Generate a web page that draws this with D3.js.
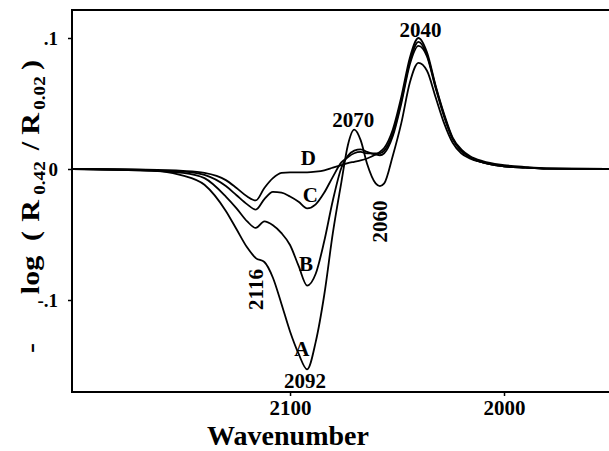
<!DOCTYPE html>
<html><head><meta charset="utf-8">
<script src="https://cdn.jsdelivr.net/npm/d3@7"></script>
<style>
html,body{margin:0;padding:0;background:#fff;}
svg{display:block;}
text{font-family:"Liberation Serif","Times New Roman",serif;font-weight:bold;fill:#000;}
</style></head>
<body><svg id="chart" width="609" height="451"></svg>
<script>
const wavenumbers = [2202,2170,2150,2140,2130,2125,2120,2116,2112,2108,2104,2100,2096,2092,2088,2084,2080,2076,2073,2070,2067,2064,2060,2058,2056,2052,2048,2044,2040,2036,2032,2028,2024,2020,2016,2010,2000,1990,1980,1951];
const seriesA = [0,-0.0005,-0.005,-0.012,-0.032,-0.046,-0.060,-0.068,-0.071,-0.083,-0.103,-0.124,-0.141,-0.153,-0.132,-0.096,-0.049,-0.010,0.018,0.030,0.022,0.004,-0.011,-0.013,-0.011,0.010,0.035,0.066,0.081,0.075,0.055,0.035,0.020,0.012,0.008,0.005,0.002,0.001,0.0003,0];
const seriesB = [0,-0.001,-0.003,-0.007,-0.021,-0.030,-0.040,-0.045,-0.040,-0.043,-0.049,-0.058,-0.074,-0.089,-0.080,-0.055,-0.024,0.001,0.010,0.014,0.015,0.013,0.011,0.0105,0.012,0.025,0.050,0.080,0.094,0.086,0.062,0.040,0.023,0.014,0.009,0.005,0.002,0.001,0.0003,0];
const seriesC = [0,-0.001,-0.002,-0.0045,-0.013,-0.020,-0.027,-0.031,-0.023,-0.0175,-0.018,-0.021,-0.025,-0.030,-0.027,-0.018,-0.006,0.005,0.009,0.012,0.013,0.012,0.012,0.012,0.014,0.027,0.052,0.082,0.097,0.087,0.063,0.041,0.023,0.014,0.009,0.005,0.002,0.001,0.0003,0];
const seriesD = [0,-0.0005,-0.0015,-0.003,-0.0085,-0.0145,-0.021,-0.024,-0.0145,-0.007,-0.003,-0.0025,-0.0025,-0.0025,-0.002,-0.001,0.001,0.003,0.0045,0.0055,0.0065,0.008,0.011,0.013,0.016,0.030,0.055,0.085,0.100,0.089,0.064,0.042,0.024,0.015,0.010,0.006,0.003,0.0015,0.0005,0];
const seriesNames = ["A","B","C","D"];
const xTickValues = [2100,2000];
const xTickLabels = ["2100","2000"];
const yTickValues = [0.1,0,-0.1];
const yTickLabels = [".1","0","-.1"];
const curveLabels = [{t:"A",w:2094.5,v:-0.137},{t:"B",w:2092.5,v:-0.072},{t:"C",w:2090.5,v:-0.0195},{t:"D",w:2091.5,v:0.0090}];
const peakLabels = [{t:"2092",w:2093,v:-0.1615,r:0},{t:"2070",w:2070.5,v:0.0375,r:0},{t:"2040",w:2039,v:0.106,r:0},{t:"2116",w:2116,v:-0.092,r:-90},{t:"2060",w:2058,v:-0.040,r:-90}];

const svg = d3.select("#chart");
const L=72, R=608, T=10, B=392;
const x = d3.scaleLinear().domain([2201.9,1951.4]).range([L,R]);
const y = d3.scaleLinear().domain([0,0.1]).range([169,38]);

// axes
const xAxis = d3.axisBottom(x).tickValues(xTickValues).tickSize(4).tickFormat((d,i)=>xTickLabels[i]);
const gx = svg.append("g").attr("transform",`translate(0,${B})`).call(xAxis);
gx.select(".domain").remove();
gx.selectAll(".tick line").attr("stroke","#000").attr("stroke-width",1.5);
gx.selectAll(".tick text").attr("font-size",21).attr("y",8).attr("dy","0.71em");

const yAxis = d3.axisLeft(y).tickValues(yTickValues).tickSize(4).tickFormat((d,i)=>yTickLabels[i]);
const gy = svg.append("g").attr("transform",`translate(${L},0)`).call(yAxis);
gy.select(".domain").remove();
gy.selectAll(".tick line").attr("stroke","#000").attr("stroke-width",1.5);
gy.selectAll(".tick text").attr("font-size",19).attr("x",-14).attr("dy","0.35em");

// frame
svg.append("path").attr("d",`M${R+2},${T}H${L}V${B}H${R+2}`).attr("fill","none").attr("stroke","#000").attr("stroke-width",2);

// curves
const all = [seriesA,seriesB,seriesC,seriesD];
const line = d3.line().x(d=>x(d[0])).y(d=>y(d[1])).curve(d3.curveMonotoneX);
all.forEach((s,i)=>{
  const pts = wavenumbers.map((w,j)=>[w,s[j]]).sort((a,b)=>a[0]-b[0]);
  svg.append("path").attr("d",line(pts)).attr("fill","none").attr("stroke","#000").attr("stroke-width",1.8);
});

// curve labels
curveLabels.forEach(c=>{
  svg.append("text").attr("x",x(c.w)).attr("y",y(c.v)).attr("text-anchor","middle").attr("dy","0.35em").attr("font-size",21).text(c.t);
});
peakLabels.forEach(c=>{
  svg.append("text").attr("transform",`translate(${x(c.w)},${y(c.v)}) rotate(${c.r})`).attr("text-anchor","middle").attr("dy","0.35em").attr("font-size",21).text(c.t);
});

// axis titles
svg.append("text").attr("x",288).attr("y",445).attr("text-anchor","middle").attr("font-size",28).text("Wavenumber");
const titlePieces = [
  {t:"-",c:348,sub:false},{t:"log",c:275,sub:false},{t:"(",c:236,sub:false},{t:"R",c:211,sub:false},
  {t:"0.42",c:178,sub:true},{t:"/",c:146,sub:false},{t:"R",c:124,sub:false},{t:"0.02",c:93,sub:true},{t:")",c:65,sub:false}
];
titlePieces.forEach(p=>{
  svg.append("text")
    .attr("transform",`translate(${p.sub?45:39},${p.c}) rotate(-90) scale(1.2,1)`)
    .attr("text-anchor","middle").attr("font-size",p.sub?16:25).text(p.t);
});
</script></body></html>
